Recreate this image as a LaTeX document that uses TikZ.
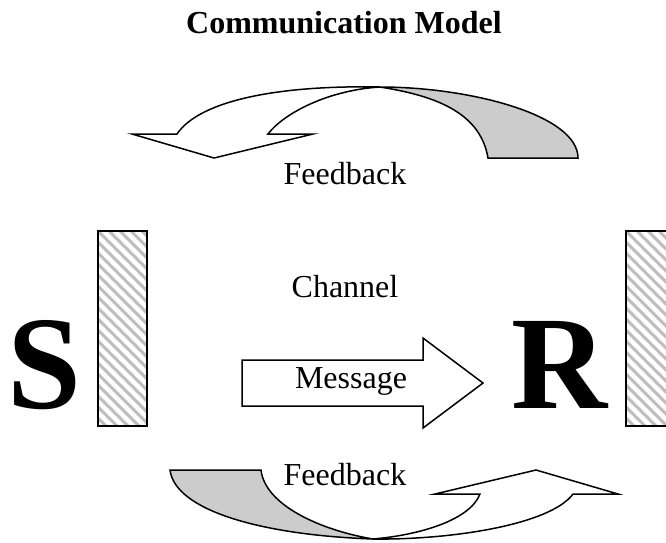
\documentclass[tikz,border=0pt]{standalone}
\usepackage{fontspec}
\setmainfont{Liberation Serif}
\definecolor{ribbongray}{RGB}{204,204,204}
\definecolor{hatchgray}{RGB}{190,190,190}
\tikzset{
  lbl/.style={anchor=base, inner sep=0pt, font=\fontsize{32}{38}\selectfont},
  big/.style={anchor=base, inner sep=0pt, font=\fontsize{133}{140}\selectfont\bfseries},
  outline/.style={draw=black, line width=1.5pt, line join=miter},
  backface/.style={outline, fill=ribbongray},
  frontface/.style={outline, fill=white},
  hatch/.style={draw=hatchgray, line width=3pt},
}
\begin{document}
\begin{tikzpicture}[x=1pt, y=-1pt]
\useasboundingbox (0,0) rectangle (666,542);

% title
\node[lbl, font=\fontsize{32}{38}\selectfont\bfseries] (title) at (344,33) {Communication Model};

% labels
\node[lbl] (fbtop) at (345,184) {Feedback};
\node[lbl] (channel) at (345,297) {Channel};
\node[lbl] (fbbot) at (345,485) {Feedback};

% big letters
\node[big] (S) at (44,408) {S};
\node[big] (R) at (560,408) {R};

% left hatched bar
\begin{scope}
  \clip (98,231) rectangle (147,426);
  \foreach \k in {-220,-209,...,160} {
    \draw[hatch] (98+\k,231) -- (98+\k+260,491);
  }
\end{scope}
\draw[outline] (98,231) rectangle (147,426);

% right hatched bar (cut by the picture edge)
\begin{scope}
  \clip (626,231) rectangle (666,426);
  \foreach \k in {-220,-209,...,160} {
    \draw[hatch] (626+\k,231) -- (626+\k+260,491);
  }
\end{scope}
\draw[outline] (667,231) -- (626,231) -- (626,426) -- (667,426);

% message arrow
\draw[frontface] (242,360) -- (423,360) -- (423,338) -- (483,383) -- (423,428) -- (423,406) -- (242,406) -- cycle;
\node[lbl] (message) at (351,388) {Message};

% top feedback ribbon arrow
\draw[backface] (380,87) .. controls (470,87) and (578,115) .. (578,158)
  -- (488,158) .. controls (480,110) and (430,95) .. (380,87) -- cycle;
\draw[frontface] (380,87) .. controls (280,85) and (200,100) .. (177,134)
  -- (132,134) -- (214,158) -- (313,134) -- (268,134)
  .. controls (285,112) and (330,90) .. (380,87) -- cycle;

% bottom feedback ribbon arrow
\draw[backface] (170,470) -- (261,470) .. controls (265,505) and (320,530) .. (373,539)
  .. controls (260,535) and (175,510) .. (170,470) -- cycle;
\draw[frontface] (373,539) .. controls (420,535) and (470,520) .. (480,494)
  -- (435,494) -- (536,470) -- (618,494) -- (573,494)
  .. controls (550,525) and (450,540) .. (373,539) -- cycle;
\end{tikzpicture}
\end{document}
